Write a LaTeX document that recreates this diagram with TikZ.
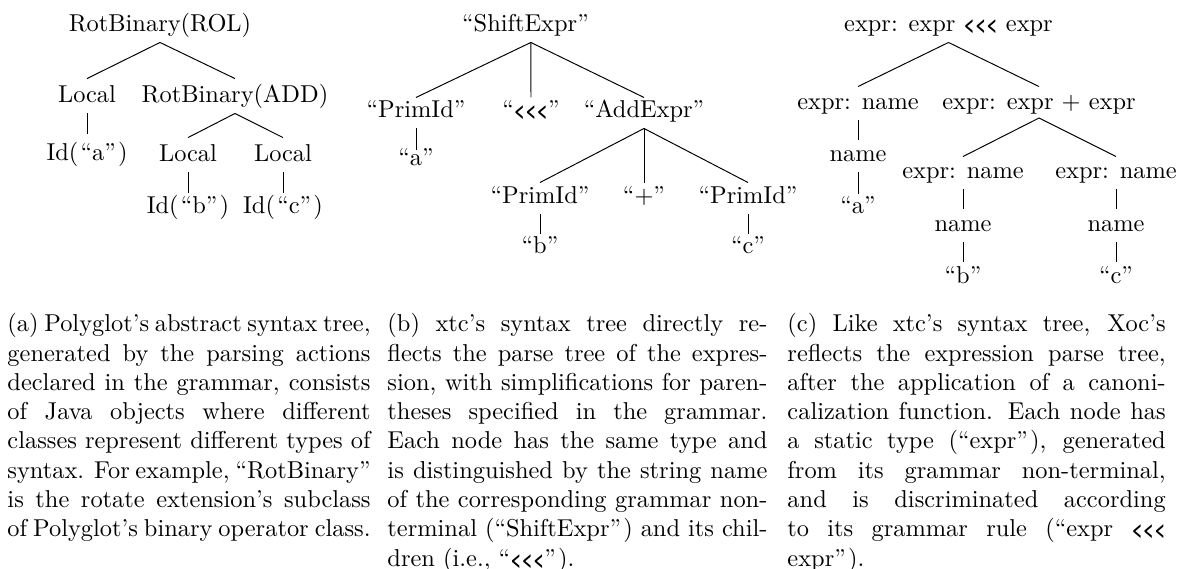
\documentclass[tikz,border=0pt]{standalone}
\usepackage{fontspec}
\newfontfamily\heros[Scale=0.8]{TeX Gyre Heros}
\newcommand{\shl}{{\heros\bfseries <\kern0pt<\kern0pt<}}
\newcommand{\pq}{\kern0.9pt}
\begin{document}
\begin{tikzpicture}[x=0.4098pt, y=-0.4098pt,
  tn/.style={inner sep=2pt, text height=7pt, text depth=2.5pt, anchor=base},
  th/.style={text height=#1},
  captxt/.style={anchor=north west, inner sep=0pt, align=justify, font=\normalsize},
  conn/.style={line width=0.4pt}]
\useasboundingbox (0,0) rectangle (1185,569);
% tree (a)
\node[tn] (ra) at (160,31) {RotBinary(ROL)};
\node[tn, th=7.4pt] (la) at (87,102) {Local};
\node[tn, th=7.4pt] (rb) at (235,102) {RotBinary(ADD)};
\node[tn, th=8.4pt] (ida) at (87,160) {Id(\pq``a''\pq)};
\node[tn, th=7.4pt] (lb) at (188,161) {Local};
\node[tn, th=7.4pt] (lc) at (283,161) {Local};
\node[tn, th=6.2pt] (idb) at (188,213) {Id(\pq``b''\pq)};
\node[tn, th=6.2pt] (idc) at (283,213) {Id(\pq``c''\pq)};
\draw[conn] (ra.south) -- (la.north);
\draw[conn] (ra.south) -- (rb.north);
\draw[conn] (la.south) -- (ida.north);
\draw[conn] (rb.south) -- (lb.north);
\draw[conn] (rb.south) -- (lc.north);
\draw[conn] (lb.south) -- (idb.north);
\draw[conn] (lc.south) -- (idc.north);
% tree (b)
\node[tn] (sb) at (525.5,31) {``ShiftExpr''};
\node[tn, th=5.8pt] (pa) at (416,117) {``PrimId''};
\node[tn, th=5.8pt] (lt) at (531,117) {``\shl''};
\node[tn, th=5.8pt] (ae) at (644,117) {``AddExpr''};
\node[tn, th=4.1pt] (qa) at (416,165) {``a''};
\node[tn, th=6.2pt] (pb) at (540,203) {``PrimId''};
\node[tn, th=6.2pt] (pl) at (644,203) {``$+$''};
\node[tn, th=6.2pt] (pc) at (748,203) {``PrimId''};
\node[tn, th=5.4pt] (qb) at (540,253) {``b''};
\node[tn, th=5.4pt] (qc) at (748,253) {``c''};
\coordinate (sbs) at ([xshift=2.2pt]sb.south);
\draw[conn] (sbs) -- (pa.north);
\draw[conn] (sbs) -- (lt.north);
\draw[conn] (sbs) -- (ae.north);
\draw[conn] (pa.south) -- (qa.north);
\draw[conn] (ae.south) -- (pb.north);
\draw[conn] (ae.south) -- (pl.north);
\draw[conn] (ae.south) -- (pc.north);
\draw[conn] (pb.south) -- (qb.north);
\draw[conn] (pc.south) -- (qc.north);
% tree (c)
\node[tn] (rc) at (948.5,31) {expr: expr \shl{} expr};
\node[tn, th=7pt] (en1) at (858,109) {expr: name};
\node[tn, th=7pt, text depth=1.5pt] (ep) at (1039,109) {expr: expr $+$ expr};
\node[tn, th=6.6pt] (n1) at (858,161) {name};
\node[tn, th=5.4pt] (qa2) at (858,213) {``a''};
\node[tn, th=6.6pt] (en2) at (963,178) {expr: name};
\node[tn, th=6.6pt] (en3) at (1116,178) {expr: name};
\node[tn, th=7pt] (n2) at (963,231) {name};
\node[tn, th=7pt] (n3) at (1116,231) {name};
\node[tn, th=6.6pt] (qb2) at (963,283) {``b''};
\node[tn, th=6.6pt] (qc2) at (1116,283) {``c''};
\draw[conn] (rc.south) -- (en1.north);
\draw[conn] (rc.south) -- (ep.north);
\draw[conn] (en1.south) -- (n1.north);
\draw[conn] (n1.south) -- (qa2.north);
\draw[conn] (ep.south) -- (en2.north);
\draw[conn] (ep.south) -- (en3.north);
\draw[conn] (en2.south) -- (n2.north);
\draw[conn] (en3.south) -- (n3.north);
\draw[conn] (n2.south) -- (qb2.north);
\draw[conn] (n3.south) -- (qc2.north);
% captions
\node[captxt, text width=148.8pt] (capa) at (7,313) {(a) Polyglot's abstract syntax tree,\linebreak
generated by the parsing actions\linebreak
declared in the grammar, consists\linebreak
of Java objects where different\linebreak
classes represent different types of\linebreak
syntax. For example, ``RotBinary''\linebreak
is the rotate extension's subclass\linebreak
of Polyglot's binary operator class.};
\node[captxt, text width=155.7pt] (capb) at (387,313) {(b) xtc's syntax tree directly re-\linebreak
flects the parse tree of the expres-\linebreak
sion, with simplifications for paren-\linebreak
theses specified in the grammar.\linebreak
Each node has the same type and\linebreak
is distinguished by the string name\linebreak
of the corresponding grammar non-\linebreak
terminal (``ShiftExpr''\pq) and its chil-\linebreak
dren (i.e., ``\shl''\pq).};
\node[captxt, text width=155pt] (capc) at (787,313) {(c) Like xtc's syntax tree, Xoc's\linebreak
reflects the expression parse tree,\linebreak
after the application of a canoni-\linebreak
calization function. Each node has\linebreak
a static type (``expr''\pq), generated\linebreak
from its grammar non-terminal,\linebreak
and is discriminated according\linebreak
to its grammar rule (``expr \shl\linebreak
expr''\pq).};
\end{tikzpicture}
\end{document}
